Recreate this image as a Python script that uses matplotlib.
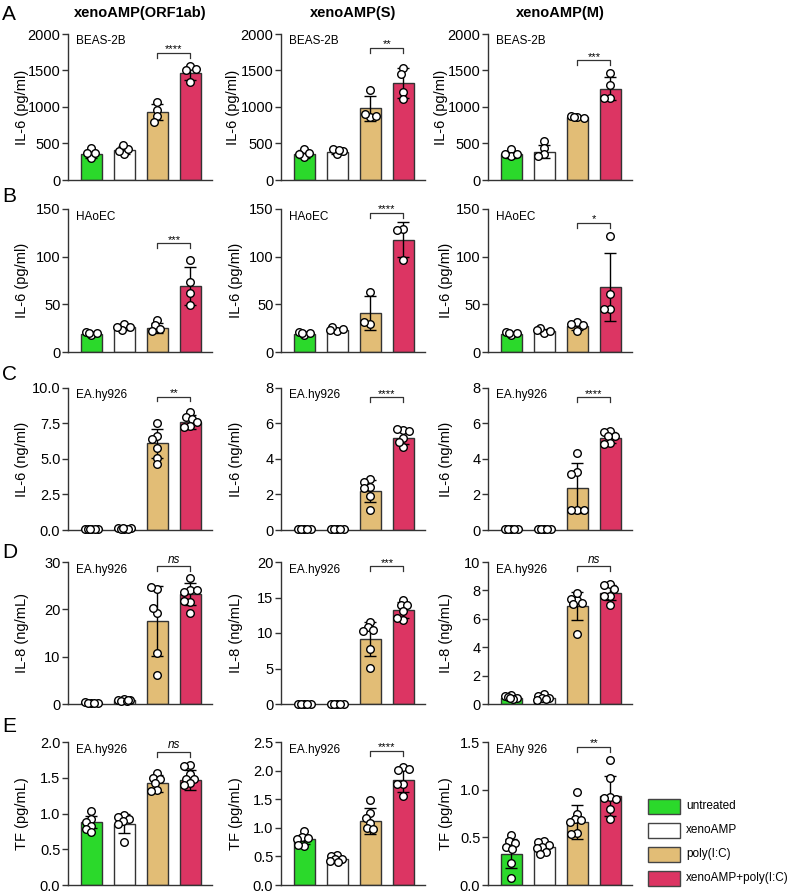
import matplotlib

matplotlib.use("Agg")
import matplotlib.pyplot as plt
import numpy as np
from matplotlib.patches import Rectangle

plt.rcParams["font.family"] = ["Liberation Sans", "DejaVu Sans"]

GROUPS = ["untreated", "xenoAMP", "poly(I:C)", "xenoAMP+poly(I:C)"]
COLORS = ["#2BD92B", "#FFFFFF", "#E2BD76", "#DC3563"]
COL_TITLES = ["xenoAMP(ORF1ab)", "xenoAMP(S)", "xenoAMP(M)"]
ROW_LETTERS = ["A", "B", "C", "D", "E"]

# ---- row A: IL-6 BEAS-2B (pg/ml)
a1_means = [355, 410, 930, 1460]
a1_sds = [55, 60, 110, 90]
a1_points = [[440, 300, 365, 370], [360, 400, 430, 480], [1070, 960, 870, 800], [1560, 1500, 1520, 1340]]
a2_means = [350, 390, 980, 1330]
a2_sds = [55, 40, 170, 200]
a2_points = [[430, 310, 360, 370], [360, 420, 400, 410], [1230, 860, 910, 880], [1530, 1450, 1210, 1110]]
a3_means = [350, 390, 860, 1250]
a3_sds = [45, 90, 15, 160]
a3_points = [[420, 330, 350, 360], [530, 440, 350, 330], [860, 870, 850, 860], [1460, 1300, 1130, 1130]]

# ---- row B: IL-6 HAoEC (pg/ml)
b1_means = [19, 26, 25, 69]
b1_sds = [1.5, 3, 5, 20]
b1_points = [[18, 21, 20, 20], [29, 23, 26, 26], [34, 28, 24, 22], [96, 73, 62, 49]]
b2_means = [19, 23, 41, 118]
b2_sds = [1.5, 2, 18, 18]
b2_points = [[18, 21, 20, 20], [22, 26, 24, 23], [63, 29, 31], [129, 128, 97]]
b3_means = [19, 22, 27, 68]
b3_sds = [1.5, 2.5, 3.5, 36]
b3_points = [[18, 21, 20, 20], [20, 25, 22, 23], [31, 29.5, 28, 22.5], [122, 61, 45, 45]]

# ---- row C: IL-6 EA.hy926 (ng/ml)
c1_means = [0.05, 0.1, 6.1, 7.6]
c1_sds = [0, 0.03, 1.0, 0.5]
c1_points = [[0.04, 0.05, 0.06, 0.05, 0.04, 0.05], [0.08, 0.12, 0.15, 0.1, 0.09, 0.13],
             [7.55, 6.6, 6.4, 5.75, 5.1, 4.65], [8.3, 7.95, 7.85, 7.6, 7.3, 7.25]]
c2_means = [0.03, 0.03, 2.2, 5.2]
c2_sds = [0, 0, 0.6, 0.35]
c2_points = [[0.03, 0.03, 0.03, 0.03, 0.03], [0.03, 0.03, 0.03, 0.03, 0.03],
             [2.85, 2.7, 2.45, 2.35, 1.9, 1.1], [5.65, 5.7, 5.55, 5.2, 4.65, 4.95]]
c3_means = [0.03, 0.03, 2.35, 5.2]
c3_sds = [0, 0, 1.4, 0.3]
c3_points = [[0.03, 0.03, 0.03, 0.03, 0.03], [0.03, 0.03, 0.03, 0.03, 0.03],
             [4.35, 3.25, 3.15, 1.1, 1.1, 1.1], [5.55, 5.5, 5.3, 5.3, 4.9, 4.85]]

# ---- row D: IL-8 EA.hy926 (ng/mL)
d1_means = [0.3, 0.8, 17.5, 23.3]
d1_sds = [0.1, 0.2, 7.4, 2.3]
d1_points = [[0.3, 0.35, 0.25, 0.3, 0.2], [1.1, 0.9, 0.8, 0.7, 0.6, 0.9],
             [24.4, 24.8, 19.2, 20.2, 10.7, 6.1], [26.6, 24.1, 23.7, 24.0, 21.6, 21.7, 19.3]]
d2_means = [0.05, 0.05, 9.1, 13.2]
d2_sds = [0, 0, 2.4, 1.1]
d2_points = [[0.05, 0.05, 0.05, 0.05, 0.05], [0.05, 0.05, 0.05, 0.05, 0.05],
             [11.6, 10.8, 10.4, 10.3, 7.8, 5.1], [14.7, 13.9, 13.9, 13.1, 11.8, 12.1]]
d3_means = [0.45, 0.45, 6.9, 7.85]
d3_sds = [0.1, 0.1, 1.0, 0.55]
d3_points = [[0.63, 0.55, 0.45, 0.5, 0.35, 0.4], [0.7, 0.55, 0.45, 0.4, 0.35, 0.3],
             [7.35, 7.4, 7.8, 7.1, 7.05, 4.9], [8.45, 8.4, 8.1, 7.6, 7.6, 7.0]]

# ---- row E: TF EA.hy926 (pg/mL)
e1_means = [0.88, 0.86, 1.42, 1.47]
e1_sds = [0.08, 0.13, 0.12, 0.14]
e1_points = [[1.03, 0.92, 0.88, 0.83, 0.79, 0.74], [0.98, 0.95, 0.92, 0.9, 0.85, 0.6],
             [1.56, 1.5, 1.48, 1.42, 1.33, 1.32], [1.68, 1.66, 1.55, 1.48, 1.48, 1.42, 1.4]]
e2_means = [0.8, 0.46, 1.12, 1.83]
e2_sds = [0.08, 0.05, 0.22, 0.2]
e2_points = [[0.94, 0.84, 0.82, 0.81, 0.69, 0.7], [0.52, 0.5, 0.45, 0.45, 0.42, 0.4],
             [1.49, 1.26, 1.18, 1.09, 1.0, 0.98], [2.06, 2.01, 2.02, 1.76, 1.76, 1.55]]
e3_means = [0.33, 0.4, 0.66, 0.93]
e3_sds = [0.15, 0.04, 0.18, 0.21]
e3_points = [[0.52, 0.46, 0.44, 0.4, 0.38, 0.23, 0.07], [0.46, 0.45, 0.42, 0.4, 0.39, 0.35, 0.33],
             [0.98, 0.75, 0.69, 0.68, 0.66, 0.55, 0.54], [1.31, 1.12, 0.92, 0.91, 0.9, 0.8, 0.69]]

ROW_YLABELS = ["IL-6 (pg/ml)", "IL-6 (pg/ml)", "IL-6 (ng/ml)", "IL-8 (ng/mL)", "TF (pg/mL)"]

# (means, sds, points, cell line, yticks, tick format, significance, bracket y frac)
panels = [
    [(a1_means, a1_sds, a1_points, "BEAS-2B", [0, 500, 1000, 1500, 2000], "{:.0f}", "****", 0.87),
     (a2_means, a2_sds, a2_points, "BEAS-2B", [0, 500, 1000, 1500, 2000], "{:.0f}", "**", 0.905),
     (a3_means, a3_sds, a3_points, "BEAS-2B", [0, 500, 1000, 1500, 2000], "{:.0f}", "***", 0.82)],
    [(b1_means, b1_sds, b1_points, "HAoEC", [0, 50, 100, 150], "{:.0f}", "***", 0.76),
     (b2_means, b2_sds, b2_points, "HAoEC", [0, 50, 100, 150], "{:.0f}", "****", 0.975),
     (b3_means, b3_sds, b3_points, "HAoEC", [0, 50, 100, 150], "{:.0f}", "*", 0.905)],
    [(c1_means, c1_sds, c1_points, "EA.hy926", [0, 2.5, 5, 7.5, 10], "{:.1f}", "**", 0.94),
     (c2_means, c2_sds, c2_points, "EA.hy926", [0, 2, 4, 6, 8], "{:.0f}", "****", 0.935),
     (c3_means, c3_sds, c3_points, "EA.hy926", [0, 2, 4, 6, 8], "{:.0f}", "****", 0.935)],
    [(d1_means, d1_sds, d1_points, "EA.hy926", [0, 10, 20, 30], "{:.0f}", "ns", 0.97),
     (d2_means, d2_sds, d2_points, "EA.hy926", [0, 5, 10, 15, 20], "{:.0f}", "***", 0.97),
     (d3_means, d3_sds, d3_points, "EA.hy926", [0, 2, 4, 6, 8, 10], "{:.0f}", "ns", 0.97)],
    [(e1_means, e1_sds, e1_points, "EA.hy926", [0, 0.5, 1.0, 1.5, 2.0], "{:.1f}", "ns", 0.93),
     (e2_means, e2_sds, e2_points, "EA.hy926", [0, 0.5, 1.0, 1.5, 2.0, 2.5], "{:.1f}", "****", 0.94),
     (e3_means, e3_sds, e3_points, "EAhy 926", [0, 0.5, 1.0, 1.5], "{:.1f}", "**", 0.965)],
]

# layout in pixels
W, H = 794, 896
ROW_TOPS = [34, 209, 388, 562, 742]
ROW_HEIGHTS = [146, 143, 142, 142, 143]
COL_LEFTS = [68, 281, 488]
AX_W = 144
LETTER_Y = [15, 196, 374, 552, 726]
YLABEL_X = [[22, 233, 441], [22, 236, 446], [22, 236, 446], [22, 236, 446], [22, 236, 446]]
XMIN, XMAX = -0.7, 3.65
EDGE = "#333333"

fig = plt.figure(figsize=(W / 100, H / 100), dpi=100)


def swarm_offsets(vals, ymax, ax_h, d_px=7.2, max_px=7.5):
    """Simple beeswarm: place points one by one, nearest free x slot within the bar."""
    x_px = AX_W / (XMAX - XMIN)
    ys = np.asarray(vals, dtype=float) / ymax * ax_h
    steps = np.arange(0, max_px + 0.01, 0.5)
    cands = sorted(set(np.concatenate([steps, -steps])), key=lambda c: (abs(c), c))
    placed, offs = [], []
    for y in ys:
        best, best_d = 0.0, -1
        for c in cands:
            dmin = min([np.hypot(c - px, y - py) for px, py in placed], default=1e9)
            if dmin >= 0.85 * d_px:
                best = c
                break
            if dmin > best_d + 0.01:
                best, best_d = c, dmin
        placed.append((best, y))
        offs.append(best / x_px)
    return np.array(offs)


for r, row in enumerate(panels):
    for c, (means, sds, points, cell, ticks, fmt, sig, sig_y) in enumerate(row):
        left, top, h = COL_LEFTS[c], ROW_TOPS[r], ROW_HEIGHTS[r]
        ax = fig.add_axes([left / W, 1 - (top + h) / H, AX_W / W, h / H])
        ymax = ticks[-1]
        x = np.arange(len(means))

        ax.bar(x, means, width=0.64, color=COLORS, edgecolor=EDGE, linewidth=1, zorder=2)
        for xi, m, s in zip(x, means, sds):
            if s > 0:
                ax.errorbar(xi, m, yerr=s, fmt="none", ecolor="black", elinewidth=1,
                            capsize=4.5, capthick=1, zorder=3)
        for xi, vals in zip(x, points):
            offs = swarm_offsets(vals, ymax, h)
            ax.scatter(xi + offs, vals, s=30, facecolor="white", edgecolor="black",
                       linewidth=1, zorder=4, clip_on=False)

        # significance bracket between poly(I:C) and combo
        yb = sig_y * ymax
        tick_h = 0.035 * ymax
        ax.plot([2, 2, 3, 3], [yb - tick_h, yb, yb, yb - tick_h], color="#333333",
                lw=0.9, zorder=3, clip_on=False)
        if sig == "ns":
            ax.text(2.5, yb + 0.005 * ymax, sig, ha="center", va="bottom", fontsize=8.5,
                    style="italic")
        else:
            ax.text(2.5, yb - 0.01 * ymax, sig, ha="center", va="bottom", fontsize=8)

        ax.set_xlim(XMIN, XMAX)
        ax.set_ylim(0, ymax)
        ax.set_xticks([])
        ax.set_yticks(ticks)
        ax.set_yticklabels([fmt.format(t) for t in ticks])
        ax.tick_params(axis="y", length=4, width=1, color=EDGE, labelsize=10.5, pad=1.5)
        for side in ["top", "right"]:
            ax.spines[side].set_visible(False)
        for side in ["left", "bottom"]:
            ax.spines[side].set_color(EDGE)
            ax.spines[side].set_linewidth(1)

        ax.set_ylabel(ROW_YLABELS[r], fontsize=10.5, va="center")
        ax.yaxis.set_label_coords((YLABEL_X[r][c] - left) / AX_W, 0.5)
        ax.text(8 / AX_W, 1 - 7.5 / h, cell, transform=ax.transAxes, ha="left",
                va="center", fontsize=8.5)

# column titles and panel letters
for c, title in enumerate(COL_TITLES):
    fig.text((COL_LEFTS[c] + AX_W / 2) / W, 1 - 12.5 / H, title, ha="center",
             va="center", fontsize=10.5, fontweight="bold")
for r, letter in enumerate(ROW_LETTERS):
    fig.text(2 / W, 1 - LETTER_Y[r] / H, letter, ha="left", va="center", fontsize=15)

# legend
for i, (name, col) in enumerate(zip(GROUPS, COLORS)):
    yc = 806 + i * 24
    fig.add_artist(Rectangle((648 / W, 1 - (yc + 7.5) / H), 32 / W, 15 / H,
                             transform=fig.transFigure, facecolor=col,
                             edgecolor="#444444", linewidth=1))
    fig.text(686 / W, 1 - yc / H, name, ha="left", va="center", fontsize=8.5)

fig.savefig("out.png", dpi=100, facecolor="white")
plt.close(fig)
